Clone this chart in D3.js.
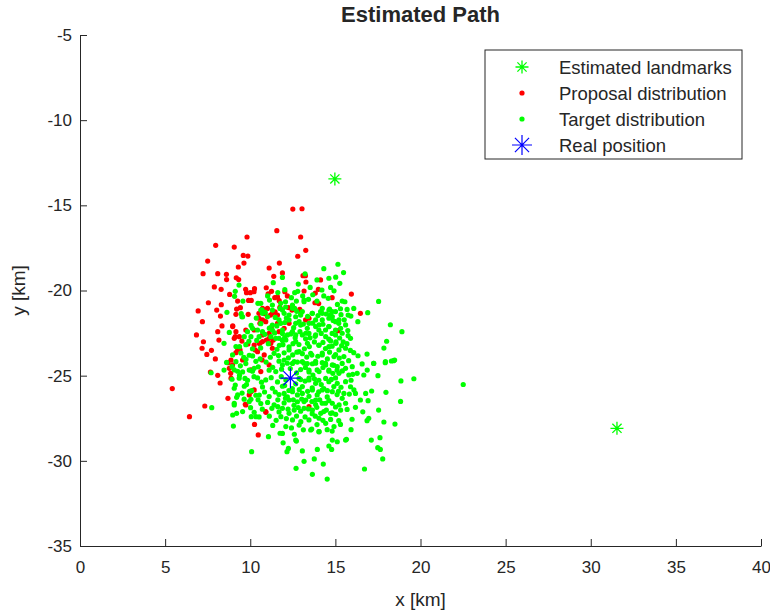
<!DOCTYPE html>
<html>
<head>
<meta charset="utf-8">
<script src="https://cdn.jsdelivr.net/npm/d3@7"></script>
<style>
  body { margin: 0; background: #fff; }
  text { font-family: "Liberation Sans", Arial, sans-serif; fill: #262626; }
</style>
</head>
<body>
<div id="chart"></div>
<script>
const xTicks = [0, 5, 10, 15, 20, 25, 30, 35, 40]
const yTicks = [-35, -30, -25, -20, -15, -10, -5]

const legendLabels = ['Estimated landmarks', 'Proposal distribution', 'Target distribution', 'Real position']

const landmarks = [[14.97, -13.45], [31.54, -28.09]]
const realPosition = [[12.36, -25.15]]

// red particles
const proposal = [
  [12.50, -15.22], [13.04, -15.20], [11.56, -16.49], [9.81, -16.86], [12.96, -16.86], [7.97, -17.35],
  [9.06, -17.45], [13.26, -17.64], [9.59, -17.94], [9.86, -17.98], [12.79, -17.99], [7.50, -18.27],
  [9.63, -18.39], [11.71, -18.39], [9.30, -18.62], [11.11, -18.68], [7.23, -19.01], [8.09, -19.01],
  [8.60, -19.05], [11.38, -19.17], [9.18, -19.25], [9.32, -19.36], [8.61, -19.36], [13.10, -19.13],
  [13.24, -19.13], [11.89, -18.97], [13.27, -19.50], [7.89, -19.79], [8.29, -19.93], [10.25, -19.89],
  [9.73, -19.93], [10.94, -19.84], [10.00, -20.13], [9.78, -20.13], [10.22, -20.07], [11.25, -20.05],
  [8.79, -20.23], [13.16, -20.03], [11.05, -20.19], [13.82, -20.15], [12.03, -20.07], [7.54, -20.72],
  [8.30, -20.83], [9.26, -20.62], [9.90, -20.58], [10.06, -20.58], [11.60, -20.38], [11.44, -20.42],
  [11.70, -20.60], [12.18, -20.32], [13.80, -20.72], [6.94, -21.20], [8.03, -21.15], [9.20, -21.09],
  [9.42, -21.01], [7.19, -21.83], [11.01, -21.05], [11.74, -20.99], [14.02, -20.77], [10.86, -21.36],
  [9.88, -21.40], [9.16, -21.40], [10.51, -21.34], [11.46, -21.26],
  [8.25, -21.50], [8.34, -22.08], [8.97, -22.07], [6.84, -22.61], [8.09, -22.42], [9.12, -22.71],
  [9.36, -22.71], [9.51, -22.97], [7.25, -23.01], [7.17, -23.39], [7.72, -23.51], [7.45, -23.75],
  [8.16, -22.91], [9.86, -23.14], [8.69, -24.24], [8.87, -24.08], [7.95, -24.02], [9.16, -23.65],
  [9.40, -23.49], [7.66, -24.79], [8.09, -24.98], [8.23, -25.43], [8.85, -24.86], [10.04, -25.94],
  [5.42, -25.76], [8.69, -26.33], [7.33, -26.78], [9.71, -26.68], [6.43, -27.41], [10.25, -27.86],
  [10.47, -28.48], [10.92, -27.15], [11.19, -21.44], [10.57, -21.93], [11.23, -22.16], [11.60, -21.93],
  [10.72, -22.61], [10.95, -22.91], [11.35, -22.91], [10.57, -23.10], [10.29, -23.49], [10.70, -24.08],
  [11.11, -24.37],
  [14.13, -19.38], [14.00, -19.93], [14.81, -20.42], [15.94, -20.21], [16.47, -21.34], [15.16, -22.36],
  [12.91, -21.11],
  [12.24, -21.00], [12.45, -21.15], [10.72, -21.05], [10.52, -21.63], [10.72, -21.73], [10.91, -21.83],
  [11.30, -21.34], [11.60, -21.44], [8.97, -22.12], [9.16, -22.42], [9.74, -22.32], [10.23, -22.32],
  [11.11, -22.52], [11.69, -22.42], [11.99, -22.22], [12.28, -21.93], [13.25, -21.73], [13.45, -21.63],
  [9.06, -22.81], [10.23, -23.20], [10.52, -23.10], [10.72, -23.00], [11.11, -22.81], [11.21, -23.10],
  [10.43, -23.59], [10.82, -23.78], [9.55, -24.08], [8.96, -24.37], [8.77, -24.57], [8.87, -25.15],
  [10.04, -24.66], [10.62, -24.76], [10.23, -25.84], [9.94, -26.13], [9.74, -26.72], [10.91, -27.11],
  [13.45, -26.82], [11.30, -23.39], [9.26, -23.49]
]

// green particles
const target = [
  [9.34, -19.68], [11.35, -19.54], [11.89, -19.23], [13.92, -19.38], [14.62, -19.28], [9.12, -20.05],
  [12.03, -19.95], [9.08, -20.34], [12.61, -20.13], [12.79, -20.05], [13.08, -20.32], [13.67, -20.25],
  [14.21, -19.97], [9.57, -20.62], [10.45, -20.75], [11.13, -20.56], [12.07, -20.66], [12.71, -20.62],
  [12.48, -20.85], [13.16, -20.56], [8.63, -21.28], [9.47, -21.36], [10.68, -21.13], [11.30, -20.85],
  [11.75, -21.05], [12.08, -20.97], [12.61, -21.05], [12.96, -21.38], [14.23, -21.05], [14.58, -20.46],
  [9.51, -21.54], [8.77, -22.46], [8.46, -23.10], [9.37, -23.30], [8.61, -24.22], [8.46, -24.67],
  [7.70, -24.83], [8.93, -24.47], [9.26, -24.74], [9.37, -24.98], [8.93, -25.21], [9.12, -25.55],
  [9.20, -26.27], [9.06, -26.62], [7.74, -26.88], [8.97, -27.31], [9.20, -27.21], [10.06, -27.41],
  [9.01, -27.96], [10.33, -27.41], [9.96, -25.92], [10.04, -26.39], [10.53, -26.14], [9.69, -25.16],
  [9.94, -24.67], [10.23, -24.57], [9.75, -24.04],
  [15.15, -18.46], [15.48, -18.95], [15.26, -19.58], [15.40, -20.62], [15.56, -20.66], [17.54, -20.64],
  [16.08, -21.05], [15.30, -21.07], [15.69, -21.11], [14.66, -21.09], [14.81, -21.24], [15.75, -21.44],
  [15.91, -21.50], [16.90, -21.30], [16.32, -21.83], [18.23, -22.01], [18.91, -22.42], [18.01, -22.98],
  [17.85, -23.38], [15.75, -22.65], [15.89, -22.81], [15.46, -23.01], [15.03, -23.10], [16.08, -23.65],
  [16.86, -23.73], [16.33, -23.83], [18.48, -24.08], [18.29, -24.14], [17.93, -24.24], [17.25, -24.27],
  [19.61, -25.18], [18.85, -25.31], [17.50, -25.00], [17.97, -25.98], [18.83, -26.51], [17.13, -25.90],
  [16.78, -26.04], [16.47, -26.43], [16.92, -26.47], [17.54, -27.02], [16.61, -27.12], [16.96, -27.50],
  [16.86, -27.64], [17.85, -27.72], [18.50, -27.84], [16.18, -26.86], [15.98, -27.56], [15.69, -26.98],
  [15.20, -27.64], [15.30, -27.86], [15.92, -28.17], [14.81, -28.25], [14.04, -28.29], [13.61, -28.13],
  [13.94, -29.33], [14.62, -29.13], [14.78, -29.33], [15.11, -28.88], [15.65, -28.74], [17.11, -28.78],
  [17.62, -28.64], [17.49, -29.23], [17.64, -29.33], [17.78, -29.89], [16.71, -30.48], [14.29, -30.19],
  [13.76, -29.89], [13.65, -30.79], [14.52, -31.07],
  [11.07, -28.58], [11.75, -28.38], [12.59, -28.44], [11.93, -28.94], [12.71, -28.84], [10.08, -29.46],
  [12.24, -29.27], [12.16, -29.46], [13.06, -29.42], [13.16, -30.03], [12.69, -30.44], [22.51, -25.52],
  [10.62, -20.75], [11.79, -20.75], [13.16, -20.66], [11.99, -21.34], [12.28, -21.44], [12.67, -21.54],
  [12.96, -21.44], [13.64, -21.34], [14.13, -21.24], [14.62, -21.15], [14.71, -21.44], [15.01, -21.24],
  [9.55, -21.54], [10.62, -21.15], [10.72, -21.34], [11.30, -21.15], [11.69, -21.73], [11.79, -21.93],
  [11.30, -22.03], [11.01, -21.54], [10.13, -22.22], [10.43, -22.32], [10.72, -22.42], [9.84, -22.42],
  [11.30, -22.32], [11.89, -22.52], [12.67, -21.93], [12.96, -22.03], [13.35, -22.22], [13.84, -22.12],
  [13.84, -21.73], [14.23, -21.73], [14.62, -21.63], [15.01, -21.83], [15.20, -21.93], [13.45, -22.52],
  [14.03, -22.32], [14.42, -22.32], [14.62, -22.12], [14.81, -22.52], [15.01, -22.61], [13.06, -22.61],
  [12.67, -22.61], [12.18, -22.61], [11.69, -22.81], [11.21, -22.71], [10.52, -22.71], [10.04, -22.71],
  [9.65, -22.71], [11.50, -22.81], [11.89, -22.93], [12.64, -22.77], [13.25, -22.84], [13.81, -22.69],
  [14.62, -22.86], [15.03, -23.02], [9.16, -23.29], [9.74, -23.18], [11.71, -23.22], [12.28, -23.31],
  [12.86, -23.17], [13.47, -23.29], [14.03, -23.22], [14.42, -23.41], [14.81, -23.27], [8.96, -23.78],
  [9.45, -23.67], [9.94, -23.80], [11.40, -23.69], [11.99, -23.66], [12.49, -23.78], [13.06, -23.71],
  [13.62, -23.79], [14.23, -23.67], [15.01, -23.76], [9.16, -24.18], [9.74, -24.29], [10.33, -24.16],
  [10.93, -24.20], [11.69, -24.15], [12.18, -24.27], [12.77, -24.20], [13.35, -24.29], [13.84, -24.16],
  [14.42, -24.27], [14.91, -24.39], [9.06, -24.66], [9.55, -24.78], [10.13, -24.74], [11.11, -24.68],
  [11.50, -24.76], [12.96, -24.64], [13.45, -24.78], [13.93, -24.66], [14.62, -24.74], [15.10, -24.68],
  [9.35, -25.15], [9.84, -25.27], [10.43, -25.13], [10.91, -25.25], [11.60, -25.37], [12.96, -25.23],
  [13.45, -25.15], [14.03, -25.27], [14.62, -25.35], [15.01, -25.13], [9.06, -25.74], [9.65, -25.62],
  [10.72, -25.66], [11.30, -25.74], [11.89, -25.62], [12.47, -25.76], [13.06, -25.64], [13.64, -25.72],
  [14.32, -25.76], [14.91, -25.64], [9.26, -26.13], [10.33, -26.15], [11.11, -26.23], [11.69, -26.11],
  [12.18, -26.25], [12.77, -26.13], [13.45, -26.21], [13.93, -26.13], [14.52, -26.25], [15.10, -26.11],
  [9.06, -26.72], [9.94, -26.52], [10.62, -26.64], [11.40, -26.72], [11.99, -26.60], [12.57, -26.74],
  [13.16, -26.52], [13.84, -26.70], [14.42, -26.62], [15.01, -26.84], [9.55, -27.11], [10.23, -27.15],
  [11.69, -27.13], [12.28, -27.21], [12.96, -27.09], [13.64, -27.23], [14.32, -27.11], [14.81, -27.19],
  [11.89, -24.37], [12.48, -24.28], [13.06, -24.18], [13.65, -24.30], [14.23, -24.24], [14.82, -24.37],
  [15.40, -24.28], [15.99, -24.47], [16.57, -24.31], [17.25, -24.28], [17.94, -24.18], [18.42, -24.12],
  [13.45, -24.67], [14.04, -24.76], [14.62, -24.67], [15.21, -24.86], [15.79, -24.96], [16.28, -24.86],
  [16.67, -24.96], [16.87, -24.67], [12.09, -25.25], [12.87, -25.16], [13.45, -25.25], [13.84, -25.45],
  [14.43, -25.16], [15.11, -25.45], [15.60, -25.35], [15.89, -25.65], [16.09, -25.84], [16.18, -26.04],
  [15.50, -26.04], [14.82, -25.94], [14.23, -25.84], [13.65, -25.84], [13.06, -26.04], [12.48, -25.94],
  [11.99, -26.04], [12.28, -26.43], [12.77, -26.53], [13.26, -26.43], [13.84, -26.43], [14.23, -26.62],
  [14.82, -26.62], [15.40, -26.33], [15.60, -26.62], [11.89, -26.92], [12.58, -27.02], [13.16, -26.92],
  [13.65, -27.02], [14.14, -27.21], [14.72, -27.21], [15.31, -27.02], [11.80, -27.41], [12.48, -27.60],
  [12.97, -27.70], [13.45, -27.60], [14.04, -27.50], [14.43, -27.80], [12.09, -27.99], [12.87, -27.90],
  [13.55, -28.19], [14.04, -28.29], [14.92, -27.99], [11.89, -28.39], [14.82, -28.78], [15.60, -28.78],
  [12.67, -28.78],
  [11.89, -21.14], [12.48, -21.04], [13.06, -21.24], [13.65, -21.34], [14.23, -21.34], [14.82, -21.53],
  [15.21, -21.73], [12.28, -21.73], [12.87, -21.83], [13.45, -21.93], [14.04, -22.02], [14.62, -22.12],
  [15.01, -22.32], [15.60, -22.02], [11.89, -22.32], [12.48, -22.41], [13.26, -22.51], [13.84, -22.61],
  [14.43, -22.71], [15.40, -22.51], [12.09, -22.90], [12.67, -23.00], [13.36, -23.10], [14.04, -23.20],
  [14.62, -23.30], [15.21, -23.49], [15.60, -23.39], [12.28, -23.49], [12.87, -23.59], [13.55, -23.69],
  [14.23, -23.78], [14.92, -23.88], [15.50, -23.88], [11.99, -24.08], [12.58, -24.18], [13.16, -24.27],
  [13.84, -24.27], [14.43, -24.37], [15.11, -24.47], [15.60, -24.57],
  [10.35, -21.62], [10.88, -21.28], [11.47, -21.58], [12.12, -21.62], [12.73, -21.22], [13.37, -21.52],
  [13.98, -21.47], [14.47, -21.38], [15.33, -21.42], [15.52, -21.72], [10.05, -22.05], [10.62, -21.95],
  [11.12, -22.21], [11.56, -22.08], [12.03, -21.88], [12.55, -22.18], [13.12, -21.97], [13.67, -21.92],
  [14.27, -21.98], [14.87, -21.76], [15.31, -22.22], [15.73, -22.35], [9.92, -22.98], [10.38, -22.93],
  [10.86, -22.57], [11.43, -22.49], [12.02, -22.76], [12.38, -22.55], [12.92, -22.42], [13.51, -22.78],
  [14.17, -22.52], [14.72, -22.96], [15.25, -22.79], [15.68, -23.12], [10.13, -23.42], [10.61, -23.37],
  [11.06, -23.12], [11.57, -23.45], [11.92, -23.18], [12.51, -23.12], [13.18, -23.42], [13.77, -23.02],
  [14.27, -23.05], [14.66, -23.62], [15.37, -23.24], [15.88, -23.52], [9.62, -23.92], [10.14, -23.84],
  [10.58, -24.02], [11.18, -23.92], [11.66, -23.82], [12.24, -23.96], [12.74, -23.62], [13.32, -23.91],
  [13.97, -23.86], [14.53, -24.02], [15.23, -23.97], [15.78, -24.12], [9.42, -24.42], [10.47, -24.48],
  [11.32, -24.51], [11.84, -24.62], [12.35, -24.58], [12.72, -24.84], [13.24, -24.52], [13.68, -24.96],
  [14.27, -24.52], [14.85, -24.86], [15.41, -24.72], [16.02, -24.92], [9.78, -25.52], [10.22, -25.06],
  [10.66, -25.38], [11.23, -25.12], [11.82, -25.06], [12.02, -25.58], [12.67, -25.48], [13.22, -25.32],
  [13.77, -25.18], [14.17, -25.52], [14.76, -25.22], [15.33, -25.68], [15.92, -25.27], [9.52, -26.02],
  [10.08, -25.88], [10.84, -25.96], [11.47, -25.96], [12.27, -25.87], [12.88, -25.82], [13.37, -25.92],
  [14.02, -25.95], [14.53, -25.88], [15.18, -25.92], [15.82, -26.08], [9.64, -26.38], [10.46, -26.42],
  [11.02, -26.57], [11.62, -26.42], [12.07, -26.32], [12.53, -26.42], [13.02, -26.37], [13.62, -26.52],
  [14.08, -26.42], [14.62, -26.46], [15.22, -26.72], [10.02, -26.88], [10.71, -26.97], [11.27, -26.92],
  [11.62, -26.82], [12.22, -26.97], [12.82, -26.87], [13.42, -26.95], [13.91, -26.86], [14.47, -27.02],
  [15.02, -27.27], [10.52, -27.42], [11.12, -27.38], [11.52, -27.62], [12.12, -27.52], [12.72, -27.37],
  [13.22, -27.42], [13.82, -27.38], [14.27, -27.62], [14.72, -27.57], [11.32, -27.92], [12.42, -28.07],
  [13.12, -28.18], [13.92, -27.87], [14.52, -28.17], [11.02, -20.32], [11.62, -20.12], [12.42, -20.42],
  [13.42, -20.52], [13.92, -20.62], [14.32, -20.32], [14.92, -20.02], [15.12, -20.82], [13.52, -19.82],
  [12.82, -19.62], [14.72, -19.82], [13.22, -19.02], [14.32, -18.72], [15.02, -19.22]
]

const margin = { top: 35, left: 80, right: 9, bottom: 67 }
const width = 770 - margin.left - margin.right
const height = 613 - margin.top - margin.bottom

const svg = d3
  .select('#chart')
  .append('svg')
  .attr('width', 770)
  .attr('height', 613)

const g = svg.append('g').attr('transform', 'translate(' + margin.left + ',' + margin.top + ')')

const xPositionScale = d3.scaleLinear().domain([0, 40]).range([0, width])
const yPositionScale = d3.scaleLinear().domain([-35, -5]).range([height, 0])

// matlab style '*' marker
function asterisk(s) {
  const d = s * 0.7071
  return 'M' + -s + ',0L' + s + ',0M0,' + -s + 'L0,' + s +
    'M' + -d + ',' + -d + 'L' + d + ',' + d + 'M' + -d + ',' + d + 'L' + d + ',' + -d
}

const xAxis = d3.axisBottom(xPositionScale)
  .tickValues(xTicks)
  .tickFormat(d => String(d))
  .tickSizeInner(-7)
  .tickSizeOuter(0)
  .tickPadding(15)
const yAxis = d3.axisLeft(yPositionScale)
  .tickValues(yTicks)
  .tickFormat(d => String(d))
  .tickSizeInner(-7)
  .tickSizeOuter(0)
  .tickPadding(8)

g.append('g')
  .attr('transform', 'translate(0,' + height + ')')
  .call(xAxis)
  .call(s => s.selectAll('text').attr('font-size', 17).attr('fill', '#262626'))

g.append('g')
  .call(yAxis)
  .call(s => s.selectAll('text').attr('font-size', 17).attr('fill', '#262626'))

g.selectAll('.domain, .tick line').attr('stroke', '#262626')

g.append('g')
  .selectAll('path')
  .data(landmarks)
  .enter()
  .append('path')
  .attr('d', asterisk(6.5))
  .attr('transform', d => 'translate(' + xPositionScale(d[0]) + ',' + yPositionScale(d[1]) + ')')
  .attr('stroke', '#00ff00')
  .attr('stroke-width', 1.3)

g.append('g')
  .selectAll('circle')
  .data(proposal)
  .enter()
  .append('circle')
  .attr('cx', d => xPositionScale(d[0]))
  .attr('cy', d => yPositionScale(d[1]))
  .attr('r', 2.6)
  .attr('fill', '#ff0000')

g.append('g')
  .selectAll('circle')
  .data(target)
  .enter()
  .append('circle')
  .attr('cx', d => xPositionScale(d[0]))
  .attr('cy', d => yPositionScale(d[1]))
  .attr('r', 2.6)
  .attr('fill', '#00ff00')

g.append('g')
  .selectAll('path')
  .data(realPosition)
  .enter()
  .append('path')
  .attr('d', asterisk(10))
  .attr('transform', d => 'translate(' + xPositionScale(d[0]) + ',' + yPositionScale(d[1]) + ')')
  .attr('stroke', '#0000ff')
  .attr('stroke-width', 1.2)

// title and labels
svg.append('text')
  .text('Estimated Path')
  .attr('x', margin.left + width / 2)
  .attr('y', 22)
  .attr('font-size', 22)
  .attr('font-weight', 'bold')
  .attr('text-anchor', 'middle')
  .attr('fill', '#000')

svg.append('text')
  .text('x [km]')
  .attr('x', margin.left + width / 2)
  .attr('y', 606)
  .attr('font-size', 19)
  .attr('text-anchor', 'middle')

svg.append('text')
  .text('y [km]')
  .attr('transform', 'translate(25,' + (margin.top + height / 2) + ') rotate(-90)')
  .attr('font-size', 19)
  .attr('text-anchor', 'middle')

// legend
const legend = svg.append('g').attr('transform', 'translate(485,50)')

legend.append('rect')
  .attr('width', 257)
  .attr('height', 109)
  .attr('fill', '#fff')
  .attr('stroke', '#262626')
  .attr('stroke-width', 1)

const legendItems = legend.selectAll('.item')
  .data(legendLabels)
  .enter()
  .append('g')
  .attr('transform', (d, i) => 'translate(0,' + (17 + i * 26) + ')')

legendItems.append('text')
  .text(d => d)
  .attr('x', 74)
  .attr('y', 6.5)
  .attr('font-size', 18.5)
  .attr('fill', '#000')

legendItems.each(function(d, i) {
  const item = d3.select(this)
  if (i === 0 || i === 3) {
    item.append('path')
      .attr('d', asterisk(i === 0 ? 6.5 : 10))
      .attr('transform', 'translate(37,0)')
      .attr('stroke', i === 0 ? '#00ff00' : '#0000ff')
      .attr('stroke-width', i === 0 ? 1.3 : 1.2)
  } else {
    item.append('circle')
      .attr('cx', 37)
      .attr('cy', 0)
      .attr('r', 2.6)
      .attr('fill', i === 1 ? '#ff0000' : '#00ff00')
  }
})
</script>
</body>
</html>
